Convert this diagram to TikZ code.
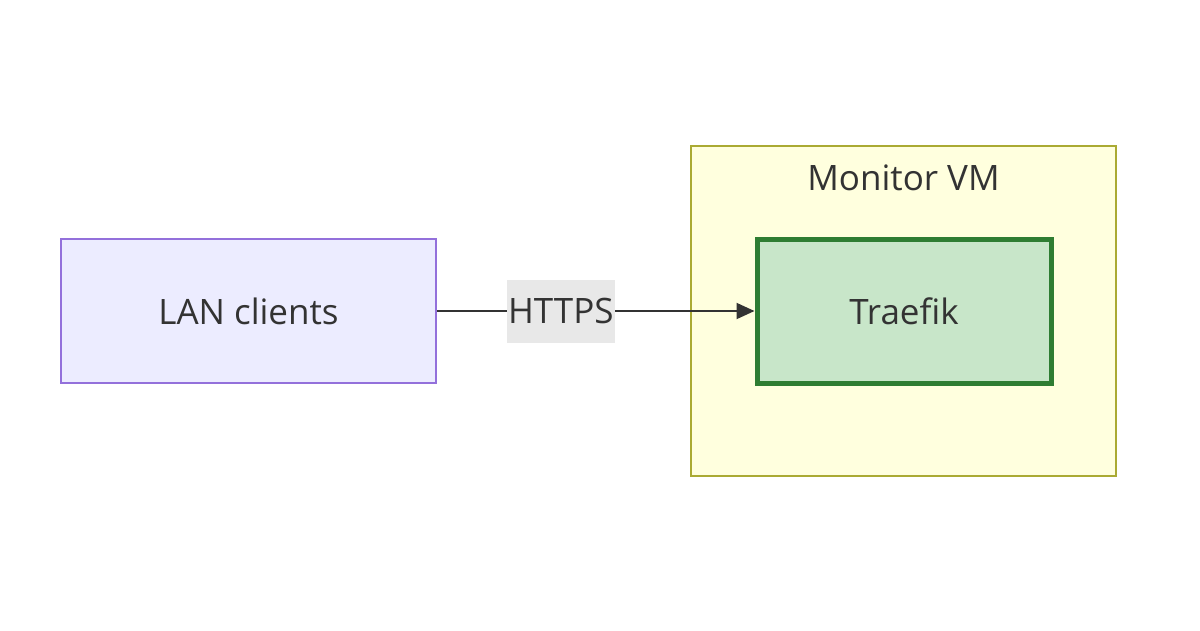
\documentclass[tikz,border=0pt]{standalone}
\usepackage{fontspec}
\setmainfont{Open Sans}
\usetikzlibrary{arrows.meta}
\definecolor{lanfill}{HTML}{ECECFF}
\definecolor{lanline}{HTML}{9370DB}
\definecolor{vmfill}{HTML}{FFFFDE}
\definecolor{vmline}{HTML}{AAAA33}
\definecolor{trfill}{HTML}{C8E6C9}
\definecolor{trline}{HTML}{2E7D32}
\definecolor{txt}{HTML}{333333}
\definecolor{lblbg}{HTML}{E8E8E8}
\begin{document}
\begin{tikzpicture}[x=1pt,y=-1pt,
  every node/.style={font=\fontsize{35}{40}\selectfont, text=txt},
  box/.style={draw, line width=2pt, minimum width=#1, minimum height=144pt, inner sep=0pt}]
\useasboundingbox (0,0) rectangle (1200,630);
\node[draw=vmline, fill=vmfill, line width=2pt, minimum width=425pt, minimum height=330pt] (vm) at (903.5,311) {};
\node (vmlabel) at (903.5,178) {Monitor VM};
\node[box=375pt, draw=lanline, fill=lanfill] (lan) at (248.5,311) {LAN clients};
\node[box=294pt, draw=trline, fill=trfill, line width=5pt] (tr) at (904,311) {Traefik};
\draw[txt, line width=2pt, -{Triangle[length=18pt,width=16pt]}] (lan) -- node[pos=0.39, fill=lblbg, inner sep=1pt, minimum height=63pt] (lbl) {HTTPS} (tr);
\end{tikzpicture}
\end{document}
